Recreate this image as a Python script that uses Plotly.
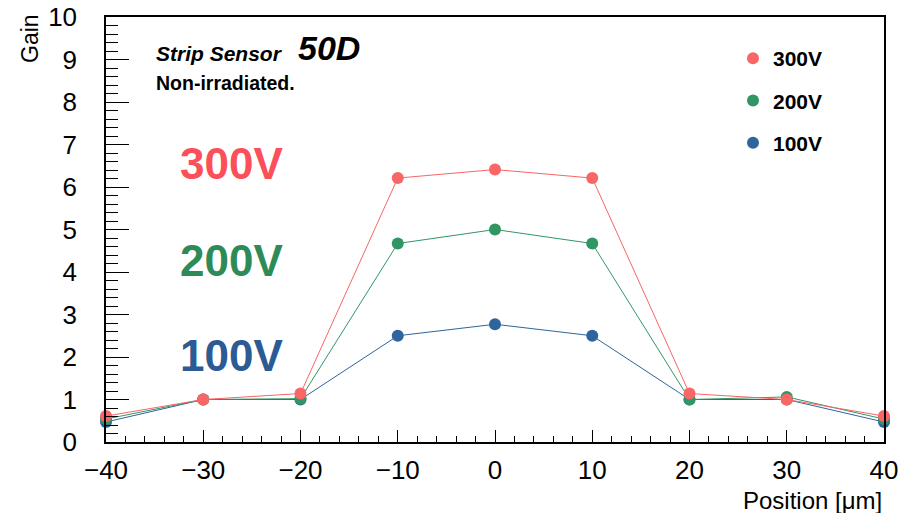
import plotly.graph_objects as go

# Scan position across the strip [um]
position = [-40, -30, -20, -10, 0, 10, 20, 30, 40]

# Measured gain for each bias voltage
gain_300v = [0.61, 1.00, 1.14, 6.21, 6.41, 6.21, 1.14, 1.00, 0.61]
gain_200v = [0.54, 1.00, 1.02, 4.67, 5.00, 4.67, 1.00, 1.06, 0.54]
gain_100v = [0.47, 1.00, 1.00, 2.50, 2.77, 2.50, 1.00, 1.00, 0.47]

series_names = ["300V", "200V", "100V"]
marker_colors = {"300V": "#f86666", "200V": "#329664", "100V": "#30649c"}
label_colors = {"300V": "#fb4f5a", "200V": "#2e8b57", "100V": "#2b5a94"}
series_values = {"300V": gain_300v, "200V": gain_200v, "100V": gain_100v}

FONT = "Liberation Sans, Arial, Helvetica, sans-serif"

fig = go.Figure()

# Curves: lowest voltage first so the 300V points sit on top
for name in ["100V", "200V", "300V"]:
    fig.add_trace(go.Scatter(
        x=position, y=series_values[name],
        mode="lines+markers",
        line=dict(color=marker_colors[name], width=1),
        marker=dict(color=marker_colors[name], size=12),
        cliponaxis=False,
        showlegend=False,
        hoverinfo="skip",
    ))

# Legend entries show only the marker
for name in series_names:
    fig.add_trace(go.Scatter(
        x=[None], y=[None], mode="markers", name="<b>" + name + "</b>",
        legendgroup=name,
        marker=dict(color=marker_colors[name], size=12),
    ))

annotations = [
    dict(text="<b><i>Strip Sensor</i></b>", x=154, y=62, size=21, anchor="left"),
    dict(text="<b><i>50D</i></b>", x=296, y=62, size=34, anchor="left"),
    dict(text="<b>Non-irradiated.</b>", x=154, y=92, size=19.5, anchor="left"),
]

W, H = 907, 513
L, R, T, B = 106, 23, 17, 71
pw, ph = W - L - R, H - T - B


def px_to_paper(xp, yp):
    return (xp - L) / pw, (H - B - yp) / ph


layout_ann = []
for a in annotations:
    px, py = px_to_paper(a["x"], a["y"])
    layout_ann.append(dict(
        text=a["text"], xref="paper", yref="paper", x=px, y=py,
        xanchor="left", yanchor="bottom", showarrow=False,
        font=dict(family=FONT, size=a["size"], color="black"),
        yshift=-a["size"] * 0.22,
    ))

# Large voltage labels at the left of the peak
for name, baseline in zip(series_names, [180, 277, 372]):
    px, py = px_to_paper(178, baseline)
    layout_ann.append(dict(
        text="<b>" + name + "</b>", xref="paper", yref="paper", x=px, y=py,
        xanchor="left", yanchor="bottom", showarrow=False,
        font=dict(family=FONT, size=44, color=label_colors[name]),
        yshift=-10,
    ))

# Axis titles
gx, gy = px_to_paper(30, 39)
layout_ann.append(dict(
    text="Gain", xref="paper", yref="paper", x=gx, y=gy,
    xanchor="center", yanchor="middle", textangle=-90, showarrow=False,
    font=dict(family=FONT, size=23, color="black"),
))
tx, ty = px_to_paper(884, 500)
layout_ann.append(dict(
    text="Position [μm]", xref="paper", yref="paper", x=tx, y=ty,
    xanchor="right", yanchor="middle", showarrow=False,
    font=dict(family=FONT, size=24, color="black"),
))

lx, ly = px_to_paper(733, 38)

fig.update_layout(
    width=W, height=H,
    margin=dict(l=L, r=R, t=T, b=B, autoexpand=False),
    paper_bgcolor="white", plot_bgcolor="white",
    font=dict(family=FONT, color="black"),
    annotations=layout_ann,
    showlegend=True,
    legend=dict(
        x=lx, y=ly, xanchor="left", yanchor="top",
        bgcolor="rgba(0,0,0,0)",
        font=dict(family=FONT, size=21, color="black"),
        traceorder="grouped", tracegroupgap=12,
        itemsizing="constant",
    ),
    xaxis=dict(
        range=[-40, 40], dtick=10, tick0=0, automargin=False,
        ticks="inside", ticklen=12, tickwidth=1.2, tickcolor="black",
        minor=dict(dtick=2, ticks="inside", ticklen=6, tickwidth=1.2, tickcolor="black"),
        showline=True, linecolor="black", linewidth=1.5, mirror=True,
        showgrid=False, zeroline=False,
        tickfont=dict(family=FONT, size=26, color="black"),
        ticklabelstandoff=4,
    ),
    yaxis=dict(
        range=[0, 10], dtick=1, tick0=0, automargin=False,
        ticks="inside", ticklen=23, tickwidth=1.2, tickcolor="black",
        minor=dict(dtick=0.2, ticks="inside", ticklen=12, tickwidth=1.2, tickcolor="black"),
        showline=True, linecolor="black", linewidth=1.5, mirror=True,
        showgrid=False, zeroline=False,
        tickfont=dict(family=FONT, size=26, color="black"),
        ticklabelstandoff=22,
    ),
)

fig.write_html("out.html")
